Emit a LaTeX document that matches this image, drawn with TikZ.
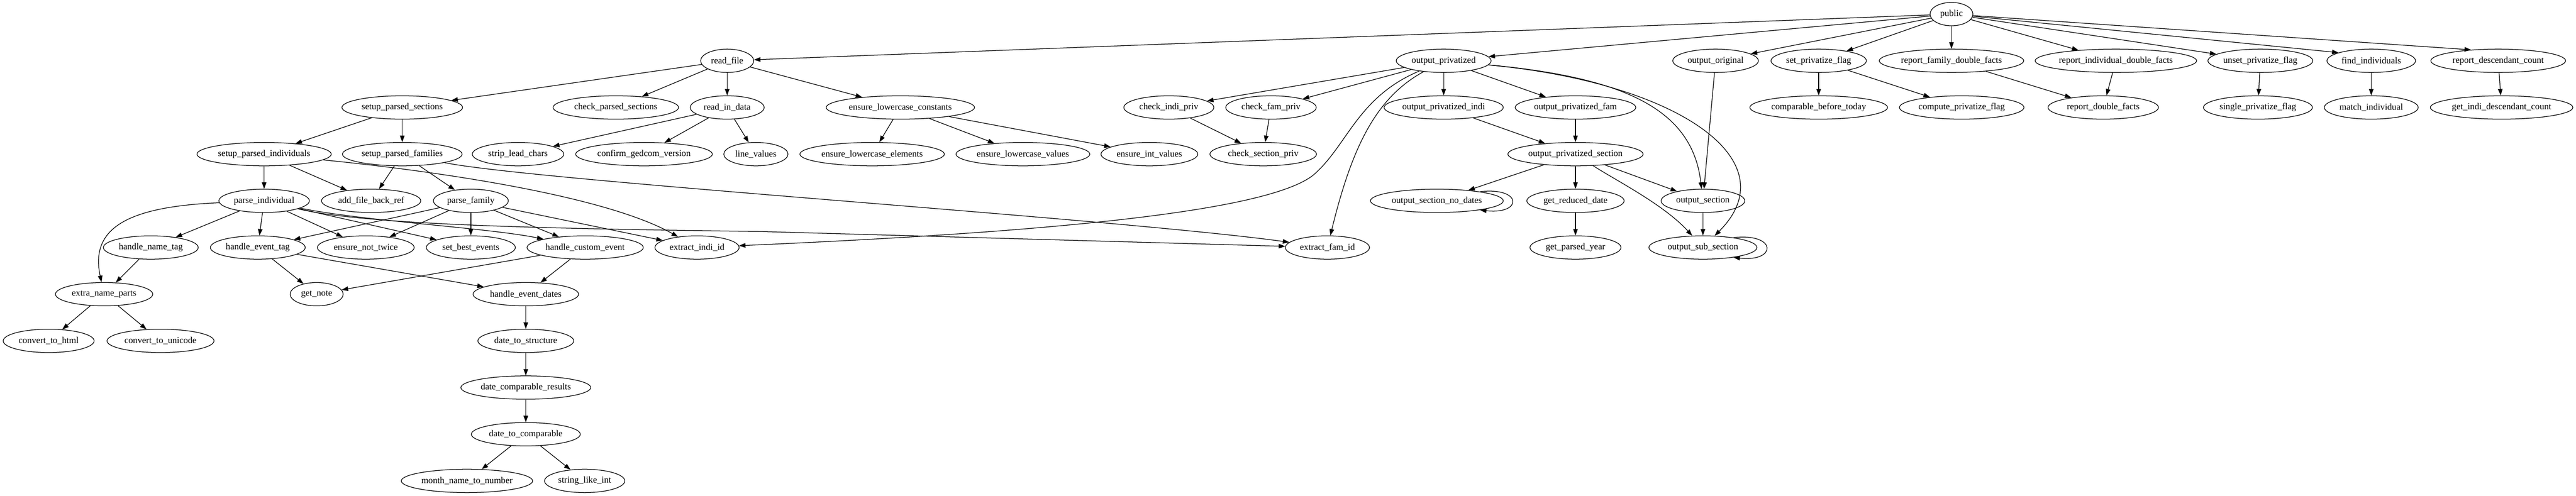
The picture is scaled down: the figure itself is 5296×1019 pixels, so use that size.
\documentclass[tikz,border=0pt]{standalone}
\usepackage{fontspec}
\setmainfont{Liberation Serif}
\usetikzlibrary{arrows.meta,shapes.geometric}
\begin{document}
\begin{tikzpicture}[x=0.75pt,y=-0.75pt,
  fn/.style={ellipse,draw,line width=1pt,inner xsep=0pt,inner ysep=2pt,
    minimum height=36pt,font=\fontsize{14pt}{16pt}\selectfont},
  ew/.style={minimum width=#1*0.75pt},
  edge/.style={line width=1pt,-{Triangle[length=10pt,width=7pt]}}]
\useasboundingbox (0,0) rectangle (5296,1019);
% row 0
\node[fn,ew=88] (public) at (4012,29) {public};
% row 1
\node[fn,ew=109] (rf) at (1495,125) {read\_file};
\node[fn,ew=195] (op) at (2968,125) {output\_privatized};
\node[fn,ew=176] (oo) at (3527,125) {output\_original};
\node[fn,ew=196] (setpf) at (3739,125) {set\_privatize\_flag};
\node[fn,ew=297] (rfdf) at (4012,125) {report\_family\_double\_facts};
\node[fn,ew=332] (ridf) at (4350,125) {report\_individual\_double\_facts};
\node[fn,ew=215] (upf) at (4647,125) {unset\_privatize\_flag};
\node[fn,ew=182] (fi) at (4875,125) {find\_individuals};
\node[fn,ew=277] (rdc) at (5136,125) {report\_descendant\_count};
% row 2
\node[fn,ew=248] (sps) at (827,221) {setup\_parsed\_sections};
\node[fn,ew=258] (cps) at (1266,221) {check\_parsed\_sections};
\node[fn,ew=152] (rid) at (1495,221) {read\_in\_data};
\node[fn,ew=305] (elc) at (1851,221) {ensure\_lowercase\_constants};
\node[fn,ew=185] (cip) at (2403,221) {check\_indi\_priv};
\node[fn,ew=186] (cfp) at (2613,221) {check\_fam\_priv};
\node[fn,ew=245] (opi) at (2968,221) {output\_privatized\_indi};
\node[fn,ew=248] (opf) at (3239,221) {output\_privatized\_fam};
\node[fn,ew=283] (cbt) at (3739,221) {comparable\_before\_today};
\node[fn,ew=256] (cpf) at (4033,221) {compute\_privatize\_flag};
\node[fn,ew=227] (rdf) at (4324,221) {report\_double\_facts};
\node[fn,ew=224] (sipf) at (4642,221) {single\_privatize\_flag};
\node[fn,ew=193] (mi) at (4875,221) {match\_individual};
\node[fn,ew=293] (gidc) at (5143,221) {get\_indi\_descendant\_count};
% row 3
\node[fn,ew=276] (spi) at (543,317) {setup\_parsed\_individuals};
\node[fn,ew=246] (spfam) at (827,317) {setup\_parsed\_families};
\node[fn,ew=188] (slc) at (1065,317) {strip\_lead\_chars};
\node[fn,ew=281] (cgv) at (1324,317) {confirm\_gedcom\_version};
\node[fn,ew=132] (lv) at (1554,317) {line\_values};
\node[fn,ew=297] (ele) at (1793,317) {ensure\_lowercase\_elements};
\node[fn,ew=275] (elv) at (2103,317) {ensure\_lowercase\_values};
\node[fn,ew=199] (eiv) at (2363,317) {ensure\_int\_values};
\node[fn,ew=219] (csp) at (2597,317) {check\_section\_priv};
\node[fn,ew=278] (ops) at (3239,317) {output\_privatized\_section};
% row 4
\node[fn,ew=186] (pi) at (543,413) {parse\_individual};
\node[fn,ew=204] (afbr) at (763,413) {add\_file\_back\_ref};
\node[fn,ew=154] (pf) at (968,413) {parse\_family};
\node[fn,ew=273] (osnd) at (2954,413) {output\_section\_no\_dates};
\node[fn,ew=200] (grd) at (3239,413) {get\_reduced\_date};
\node[fn,ew=172] (os) at (3501,413) {output\_section};
% row 5
\node[fn,ew=195] (hnt) at (310,509) {handle\_name\_tag};
\node[fn,ew=195] (het) at (530,509) {handle\_event\_tag};
\node[fn,ew=199] (ent) at (752,509) {ensure\_not\_twice};
\node[fn,ew=183] (sbe) at (968,509) {set\_best\_events};
\node[fn,ew=239] (hce) at (1203,509) {handle\_custom\_event};
\node[fn,ew=173] (eii) at (1433,509) {extract\_indi\_id};
\node[fn,ew=173] (efi) at (2729,509) {extract\_fam\_id};
\node[fn,ew=187] (gpy) at (3239,509) {get\_parsed\_year};
\node[fn,ew=222] (oss) at (3501,509) {output\_sub\_section};
% row 6
\node[fn,ew=200] (enp) at (214,605) {extra\_name\_parts};
\node[fn,ew=109] (gn) at (651,605) {get\_note};
\node[fn,ew=217] (hed) at (1081,605) {handle\_event\_dates};
% row 7
\node[fn,ew=187] (cth) at (100,701) {convert\_to\_html};
\node[fn,ew=220] (ctu) at (330,701) {convert\_to\_unicode};
\node[fn,ew=197] (dts) at (1081,701) {date\_to\_structure};
% rows 8-10
\node[fn,ew=267] (dcr) at (1081,797) {date\_comparable\_results};
\node[fn,ew=224] (dtc) at (1081,893) {date\_to\_comparable};
\node[fn,ew=270] (mntn) at (960,989) {month\_name\_to\_number};
\node[fn,ew=165] (sli) at (1202,989) {string\_like\_int};

% edges from public
\foreach \t in {rf,op,oo,setpf,rfdf,ridf,upf} \draw[edge] (public) -- (\t);
\draw[edge] (public) -- (fi.166);
\draw[edge] (public) -- (rdc.158);
% read_file
\foreach \t in {sps,cps,rid,elc} \draw[edge] (rf) -- (\t);
\draw[edge] (sps) -- (spi);
\draw[edge] (sps) -- (spfam);
\foreach \t in {slc,cgv,lv} \draw[edge] (rid) -- (\t);
\foreach \t in {ele,elv,eiv} \draw[edge] (elc) -- (\t);
\draw[edge] (spi) -- (pi);
\draw[edge] (spi) -- (afbr);
\draw[edge] (spi) .. controls (880,350) and (1240,400) .. (eii);
\draw[edge] (spfam) -- (afbr);
\draw[edge] (spfam) -- (pf);
\draw[edge] (spfam) .. controls (1100,372) and (2300,450) .. (efi);
% parse_individual
\foreach \t in {hnt,het,ent,sbe} \draw[edge] (pi) -- (\t);
\draw[edge] (pi) .. controls (750,455) and (1000,468) .. (hce);
\draw[edge] (pi) .. controls (750,462) and (1100,470) .. (1560,476) -- (efi);
\draw[edge] (pi) .. controls (260,425) and (185,470) .. (enp);
% parse_family
\foreach \t in {het,ent,sbe,hce,eii} \draw[edge] (pf) -- (\t);
\draw[edge] (hnt) -- (enp);
\draw[edge] (het) -- (gn);
\draw[edge] (het) -- (hed);
\draw[edge] (hce) -- (gn);
\draw[edge] (hce) -- (hed);
\draw[edge] (enp) -- (cth);
\draw[edge] (enp) -- (ctu);
\draw[edge] (hed) -- (dts);
\draw[edge] (dts) -- (dcr);
\draw[edge] (dcr) -- (dtc);
\draw[edge] (dtc) -- (mntn);
\draw[edge] (dtc) -- (sli);
% output_privatized
\foreach \t in {cip,cfp,opi,opf} \draw[edge] (op) -- (\t);
\draw[edge] (op) .. controls (2790,200) and (2770,300) .. (2700,360)
  .. controls (2600,440) and (2100,480) .. (eii);
\draw[edge] (op) .. controls (2830,200) and (2780,300) .. (efi);
\draw[edge] (op) .. controls (3350,160) and (3480,230) .. (os);
\draw[edge] (op) .. controls (3450,170) and (3680,330) .. (oss);
\draw[edge] (cip) -- (csp);
\draw[edge] (cfp) -- (csp);
\draw[edge] (opi) -- (ops);
\draw[edge] (opf) -- (ops);
\draw[edge] (ops) -- (osnd);
\draw[edge] (ops) -- (grd);
\draw[edge] (ops) -- (os);
\draw[edge] (ops) .. controls (3320,370) and (3420,420) .. (oss);
\draw[edge] (osnd.12) .. controls +(88,-10) and +(88,10) .. (osnd.-12);
\draw[edge] (grd) -- (gpy);
\draw[edge] (os) -- (oss);
\draw[edge] (oss.18) .. controls +(90,-10) and +(90,10) .. (oss.-18);
\draw[edge] (oo) -- (os);
\draw[edge] (setpf) -- (cbt);
\draw[edge] (setpf) -- (cpf);
\draw[edge] (rfdf) -- (rdf);
\draw[edge] (ridf) -- (rdf);
\draw[edge] (upf) -- (sipf);
\draw[edge] (fi) -- (mi);
\draw[edge] (rdc) -- (gidc);
\end{tikzpicture}
\end{document}
